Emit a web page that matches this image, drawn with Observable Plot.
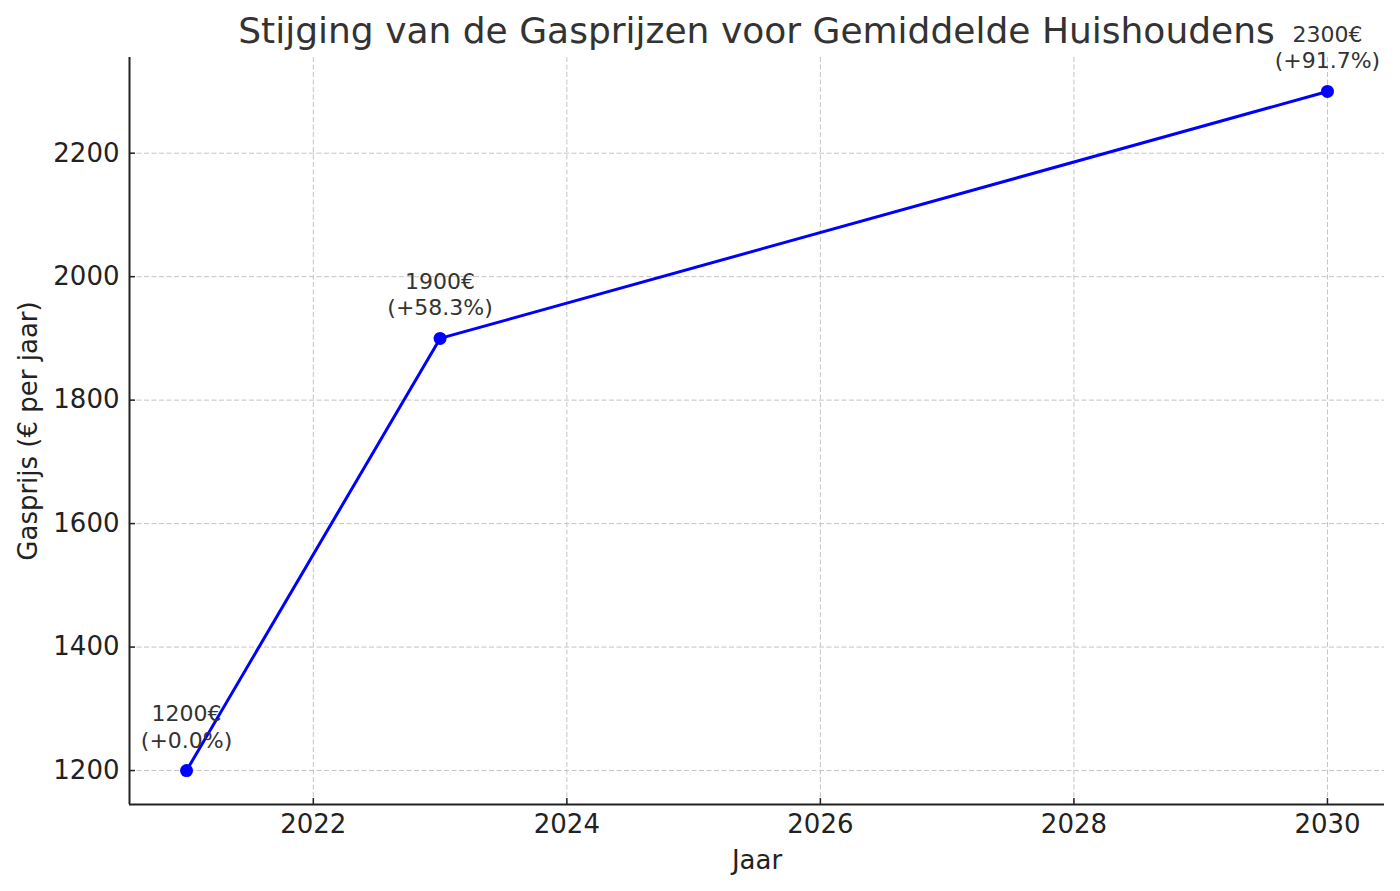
<!DOCTYPE html>
<html>
<head>
<meta charset="utf-8">
<script src="https://cdn.jsdelivr.net/npm/d3@7"></script>
<script src="https://cdn.jsdelivr.net/npm/@observablehq/plot@0.6"></script>
<style>
  html, body { margin: 0; padding: 0; background: #fff; }
  #wrap { position: relative; width: 1400px; height: 891px; font-family: "DejaVu Sans", sans-serif; }
  #title { position: absolute; left: 129px; width: 1255px; top: 13px; text-align: center;
           font-size: 36px; line-height: 1; color: #333; white-space: nowrap; }
</style>
</head>
<body>
<div id="wrap">
  <div id="title">Stijging van de Gasprijzen voor Gemiddelde Huishoudens</div>
  <div id="chart"></div>
</div>
<script>
const years = [2021, 2023, 2030];
const prices = [1200, 1900, 2300];
const changes = ["+0.0%", "+58.3%", "+91.7%"];
const xTicks = [2022, 2024, 2026, 2028, 2030];
const yTicks = [1200, 1400, 1600, 1800, 2000, 2200];
const xLabel = "Jaar";
const yLabel = "Gasprijs (€ per jaar)";

const data = years.map((y, i) => ({year: y, price: prices[i], label: `${prices[i]}€\n(${changes[i]})`}));

const xDomain = [2020.55, 2030.45];
const yDomain = [1145, 2355];

const chart = Plot.plot({
  width: 1400,
  height: 891,
  marginLeft: 129,
  marginRight: 16,
  marginTop: 57,
  marginBottom: 87,
  style: {fontFamily: "DejaVu Sans, sans-serif", background: "#fff", overflow: "visible"},
  x: {domain: xDomain},
  y: {domain: yDomain},
  marks: [
    Plot.gridX(xTicks, {stroke: "#c4c4c4", strokeOpacity: 1, strokeWidth: 1, strokeDasharray: "5,2.5"}),
    Plot.gridY(yTicks, {stroke: "#c4c4c4", strokeOpacity: 1, strokeWidth: 1, strokeDasharray: "5,2.5"}),
    Plot.axisX(xTicks, {tickSize: -6, tickPadding: 16, tickFormat: d => String(d), fontSize: 26, fill: "#222", stroke: "#222", strokeWidth: 1.5, label: null}),
    Plot.axisY(yTicks, {tickSize: -6, tickPadding: 16, tickFormat: d => String(d), fontSize: 26, fill: "#222", stroke: "#222", strokeWidth: 1.5, label: null}),
    Plot.ruleX([xDomain[0]], {stroke: "#222", strokeWidth: 2}),
    Plot.ruleY([yDomain[0]], {stroke: "#222", strokeWidth: 2}),
    Plot.line(data, {x: "year", y: "price", stroke: "#0000ff", strokeWidth: 3}),
    Plot.dot(data, {x: "year", y: "price", r: 6.5, fill: "#0000ff", stroke: "none"}),
    Plot.text(data, {x: "year", y: "price", text: "label", lineAnchor: "bottom", dy: -23, lineHeight: 1.2, fontSize: 22, fill: "#333"}),
    Plot.text([xLabel], {frameAnchor: "bottom", dy: 56, fontSize: 26, fill: "#222", lineAnchor: "middle", textAnchor: "middle"}),
    Plot.text([yLabel], {frameAnchor: "left", dx: -101, rotate: -90, fontSize: 26, fill: "#222", lineAnchor: "middle", textAnchor: "middle"})
  ]
});
document.getElementById("chart").appendChild(chart);
</script>
</body>
</html>
